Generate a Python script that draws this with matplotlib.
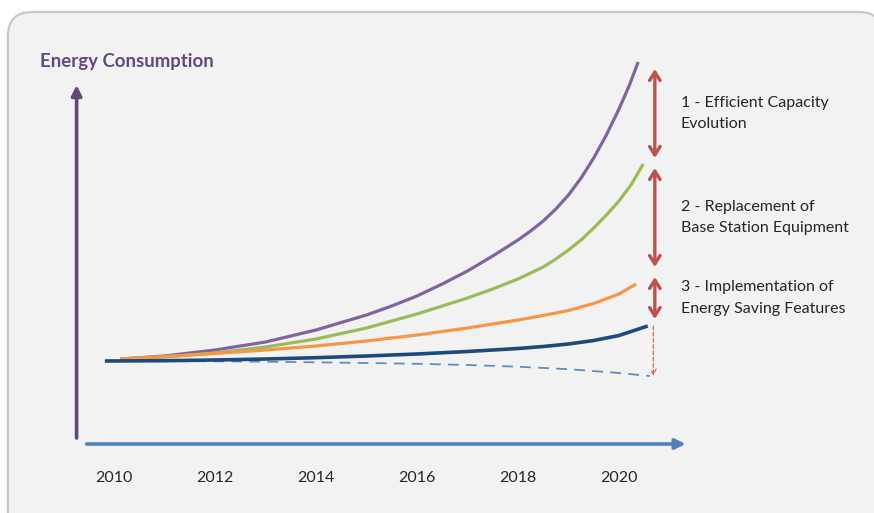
import matplotlib.pyplot as plt
from matplotlib.patches import FancyBboxPatch

# ---------------------------------------------------------------------------
# Data (index, 2010 level = 100)
years_purple = [2010.12, 2011, 2012, 2013, 2014, 2015, 2015.5, 2016, 2016.5, 2017, 2017.5,
                2018, 2018.25, 2018.5, 2018.75, 2019, 2019.25, 2019.5, 2019.75, 2020, 2020.2, 2020.38]
vals_purple  = [102, 105, 111, 119, 131, 146, 155, 165, 177, 190, 205,
                221, 230, 240, 252, 266, 283, 303, 326, 352, 375, 399]

years_green = [2010.12, 2011, 2012, 2013, 2014, 2015, 2015.5, 2016, 2016.5, 2017, 2017.5,
               2018, 2018.25, 2018.5, 2018.75, 2019, 2019.25, 2019.5, 2019.75, 2020, 2020.25, 2020.48]
vals_green  = [102, 104, 108, 114, 122, 133, 140, 147, 155, 163, 172,
               182, 188, 194, 202, 211, 221, 233, 246, 260, 277, 297]

years_orange = [2010.12, 2011, 2012, 2013, 2014, 2015, 2016, 2016.5, 2017, 2017.5,
                2018, 2018.5, 2019, 2019.5, 2020, 2020.34]
vals_orange  = [102, 104.5, 107.5, 111, 115, 120, 126, 129.5, 133, 137,
                141, 145.5, 150.5, 157.5, 167, 177]

years_blue = [2009.82, 2011, 2012, 2013, 2014, 2015, 2016, 2017, 2018, 2018.5, 2019, 2019.5, 2020, 2020.57]
vals_blue  = [100, 100.3, 101, 102, 103.3, 105, 107, 109.5, 112.5, 114.5, 117, 120.5, 125.5, 135]

years_base = [2009.82, 2011, 2012, 2013, 2014, 2015, 2016, 2017, 2018, 2019, 2020, 2020.61]
vals_base  = [100, 100, 99.7, 99.3, 98.7, 98, 97.2, 96, 94.3, 91.8, 88, 85]

# levels separating the three saving measures
step_levels = [397, 298, 189, 137]
step_labels = ['1 - Efficient Capacity\nEvolution',
               '2 - Replacement of\nBase Station Equipment',
               '3 - Implementation of\nEnergy Saving Features']

tick_years = [2010, 2012, 2014, 2016, 2018, 2020]

# ---------------------------------------------------------------------------
plt.rcParams['font.family'] = ['Lato', 'DejaVu Sans']

fig = plt.figure(figsize=(8.74, 5.13), dpi=100)
fig.patch.set_facecolor('white')

# rounded grey panel
panel = FancyBboxPatch((0.08, -0.4), 8.75, 5.41,
                       boxstyle='round,pad=0,rounding_size=0.24',
                       transform=fig.dpi_scale_trans,
                       facecolor='#f2f2f2', edgecolor='#c9c9c9', linewidth=1.6,
                       zorder=-1)
fig.add_artist(panel)

ax = fig.add_axes([0, 0, 1, 1])
ax.set_xlim(2007.743, 2025.05)
ax.set_ylim(-52, 461)
ax.axis('off')
ax.patch.set_alpha(0)

# axes arrows
ax.annotate('', xy=(2009.26, 376), xytext=(2009.26, 23),
            arrowprops=dict(arrowstyle='-|>,head_length=0.6,head_width=0.3',
                            color='#604a7b', lw=2.6, shrinkA=0, shrinkB=0))
ax.annotate('', xy=(2021.32, 17), xytext=(2009.46, 17),
            arrowprops=dict(arrowstyle='-|>,head_length=0.6,head_width=0.3',
                            color='#4f81bd', lw=2.6, shrinkA=0, shrinkB=0))

# curves
ax.plot(years_base, vals_base, color='#4f81bd', lw=1.3, ls=(0, (6, 4)), alpha=0.9)
ax.plot(years_purple, vals_purple, color='#8064a2', lw=2.3, solid_capstyle='butt')
ax.plot(years_green, vals_green, color='#9bbb59', lw=2.3, solid_capstyle='butt')
ax.plot(years_orange, vals_orange, color='#f79646', lw=2.3, solid_capstyle='butt')
ax.plot(years_blue, vals_blue, color='#1f497d', lw=2.6, solid_capstyle='butt')

# red double arrows between the levels
x_arr = 2020.71
gap = 5
for top, bot in zip(step_levels[:-1], step_levels[1:]):
    ax.annotate('', xy=(x_arr, top - gap), xytext=(x_arr, bot + gap),
                arrowprops=dict(arrowstyle='<->,head_length=0.6,head_width=0.38',
                                color='#c0504d', lw=2.4, shrinkA=0, shrinkB=0))
ax.annotate('', xy=(x_arr - 0.03, vals_base[-1]), xytext=(x_arr - 0.03, vals_blue[-1]),
            arrowprops=dict(arrowstyle='->,head_length=0.4,head_width=0.2',
                            color='#e0625e', lw=0.9, ls=(0, (3, 2)), shrinkA=0, shrinkB=0))

# labels next to arrows
for top, bot, lab in zip(step_levels[:-1], step_levels[1:], step_labels):
    ax.text(2021.22, (top + bot) / 2, lab, fontsize=11.5, color='#262626',
            va='center', ha='left', linespacing=1.65)

# title
ax.text(2008.54, 399, 'Energy Consumption', fontsize=13.4, fontweight='bold',
        color='#604a7b', va='center', ha='left')

# tick labels
for yr in tick_years:
    ax.text(yr, -17, str(yr), fontsize=11.5, color='#262626', ha='center', va='center')

fig.savefig('out.png', dpi=100)
